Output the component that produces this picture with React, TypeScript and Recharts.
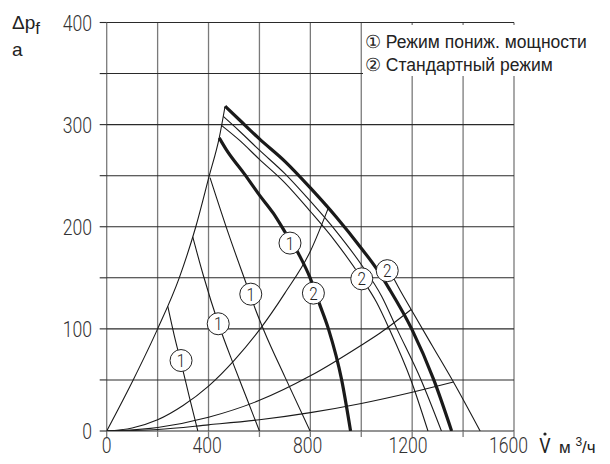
import React from 'react';
import { ComposedChart, Line, Scatter, XAxis, YAxis, CartesianGrid } from 'recharts';

// ---- axis ticks ----
const xTicks = [0, 200, 400, 600, 800, 1000, 1200, 1400, 1600];
const xLabels = [0, 400, 800, 1200, 1600];
const yTicks = [0, 50, 100, 150, 200, 250, 300, 350, 400];
const yLabels = [0, 100, 200, 300, 400];

// ---- curves: [flow m3/h, pressure Pa] ----
const stallLine = [[0, 0], [104, 50], [200, 100], [285, 150], [350, 200], [403, 250], [442, 287], [465, 318]];
const reducedA = [[240, 122], [265, 94], [292, 67], [325, 33], [358, 0]];
const reducedB = [[338, 190], [380, 152], [439, 105], [500, 64], [550, 32], [600, 0]];
const reducedC = [[406, 248], [480, 192], [550, 143], [583, 120], [620, 97], [700, 53], [799, 0]];
const reducedThick = [[442, 287], [471, 275], [540, 252], [600, 231], [655, 213], [700, 195], [759, 171], [799, 150], [835, 125], [871, 100], [923, 50], [958, 0]];
const standardThinB = [[452, 299], [520, 285], [600, 266], [700, 243], [800, 215], [900, 185], [1000, 150], [1060, 126], [1110, 100], [1195, 50], [1262, 0]];
const standardThinA = [[458, 308], [520, 294], [600, 275], [700, 252], [800, 225], [900, 196], [1000, 163], [1080, 132], [1140, 100], [1235, 50], [1315, 0]];
const standardThick = [[465, 318], [520, 305], [600, 286], [700, 264], [800, 238], [900, 210], [1000, 179], [1060, 159], [1113, 138], [1198, 100], [1285, 50], [1355, 0]];
const outerLimit = [[1105, 160], [1152, 138], [1196, 119], [1280, 83], [1362, 48], [1467, 0]];
const systemSteep = [[0, 0], [100, 3], [200, 11], [300, 25], [400, 44], [500, 69], [600, 99], [700, 135], [800, 176], [870, 218]];
const systemMid = [[0, 0], [200, 3.5], [400, 13.5], [600, 30], [800, 54], [1000, 84], [1074, 96], [1196, 119]];
const systemFlat = [[0, 0], [200, 1.5], [400, 6], [600, 11], [800, 18], [1000, 27], [1200, 38], [1362, 48]];

// ---- circled markers ----
const markerFlow = [292, 438, 566, 720, 812, 1002, 1102];
const markerPressure = [69, 105, 134, 184, 135, 149, 157];
const markerText = ['1', '1', '1', '1', '2', '2', '2'];

const toPts = (arr: number[][]) => arr.map(([x, y]) => ({ x, y }));
const markers = markerFlow.map((x, i) => ({ x, y: markerPressure[i], t: markerText[i] }));

const DIGIT_FONT = "Roboto, 'DejaVu Sans', sans-serif";
const TEXT_FONT = "'Liberation Sans', Arial, sans-serif";

const PLOT_LEFT = 106.7;
const PLOT_BOTTOM = 431;

const XTick = (props: any) => {
  const { x, payload } = props;
  const v = payload.value;
  const dx = -(v / 1600) * 5.5;
  return (
    <g>
      <line x1={x} x2={x} y1={PLOT_BOTTOM} y2={PLOT_BOTTOM + 6} stroke="#7a7a7a" strokeWidth={1.3} />
      {xLabels.includes(v) ? (
        <text transform={`translate(${x + dx},453) scale(0.8,1)`} textAnchor="middle" fontFamily={DIGIT_FONT} fontWeight={300} fontSize={22} fill="#333">
          {v}
        </text>
      ) : null}
    </g>
  );
};

const YTick = (props: any) => {
  const { y, payload } = props;
  const v = payload.value;
  return (
    <g>
      <line x1={PLOT_LEFT - 7} x2={PLOT_LEFT} y1={y} y2={y} stroke="#2a2a2a" strokeWidth={1.1} />
      {yLabels.includes(v) ? (
        <text transform={`translate(92,${y + 8}) scale(0.8,1)`} textAnchor="end" fontFamily={DIGIT_FONT} fontWeight={300} fontSize={22} fill="#333">
          {v}
        </text>
      ) : null}
    </g>
  );
};

const Badge = (props: any) => {
  const { cx, cy, payload } = props;
  return (
    <g>
      <circle cx={cx} cy={cy} r={11} fill="#fff" stroke="#222" strokeWidth={1} />
      <text transform={`translate(${cx},${cy + 6.5}) scale(0.85,1)`} textAnchor="middle" fontFamily={DIGIT_FONT} fontWeight={300} fontSize={18} fill="#222">
        {payload.t}
      </text>
    </g>
  );
};

const THIN = 1.1;
const THICK = 3.2;

const series: { d: number[][]; w: number }[] = [
  { d: stallLine, w: THIN },
  { d: systemSteep, w: THIN },
  { d: systemMid, w: THIN },
  { d: systemFlat, w: THIN },
  { d: reducedA, w: THIN },
  { d: reducedB, w: THIN },
  { d: reducedC, w: THIN },
  { d: standardThinB, w: THIN },
  { d: standardThinA, w: THIN },
  { d: outerLimit, w: THIN },
  { d: reducedThick, w: THICK },
  { d: standardThick, w: THICK },
];

export default function App() {
  return (
    <div style={{ position: 'absolute', left: 0, top: 0, width: 610, height: 464, background: '#fff' }}>
      <ComposedChart width={610} height={464} margin={{ top: 22.5, right: 96, bottom: 3, left: 76.7 }}>
        <CartesianGrid horizontal={false} stroke="#7a7a7a" strokeWidth={1.3} />
        <CartesianGrid vertical={false} stroke="#2a2a2a" strokeWidth={1.1} />
        <XAxis
          type="number"
          dataKey="x"
          domain={[0, 1600]}
          ticks={xTicks}
          interval={0}
          height={30}
          axisLine={false}
          tickLine={false}
          tick={<XTick />}
          allowDataOverflow
        />
        <YAxis
          type="number"
          domain={[0, 400]}
          ticks={yTicks}
          interval={0}
          width={30}
          axisLine={false}
          tickLine={false}
          tick={<YTick />}
          allowDataOverflow
        />
        {series.map((c, i) => (
          <Line
            key={i}
            data={toPts(c.d)}
            dataKey="y"
            type="monotone"
            stroke="#1a1a1a"
            strokeWidth={c.w}
            dot={false}
            activeDot={false}
            isAnimationActive={false}
          />
        ))}
        <Scatter data={markers} dataKey="y" shape={<Badge />} isAnimationActive={false} />
      </ComposedChart>
      <svg width={610} height={464} style={{ position: 'absolute', left: 0, top: 0, pointerEvents: 'none' }}>
        <rect x={30} y={69} width={69} height={8} fill="#fff" />
        <rect x={363} y={25} width={247} height={51} fill="#fff" />
        <text x={365} y={48} fontFamily={TEXT_FONT} fontSize={17.5} fill="#222">① Режим пониж. мощности</text>
        <text x={365} y={71} fontFamily={TEXT_FONT} fontSize={17.5} fill="#222">② Стандартный режим</text>
        <text x={12} y={29} fontFamily={TEXT_FONT} fontSize={19} fill="#222">
          Δp<tspan fontSize={17} dy={5}>f</tspan>
        </text>
        <text x={12} y={56} fontFamily={TEXT_FONT} fontSize={19} fill="#222">a</text>
        <text transform="translate(545,453) scale(0.85,1)" textAnchor="middle" fontFamily={DIGIT_FONT} fontWeight={400} fontSize={21} fill="#222">V</text>
        <circle cx={545} cy={434} r={1.6} fill="#222" />
        <text x={559} y={453} fontFamily={TEXT_FONT} fontSize={17} fill="#222">м <tspan fontSize={12} dy={-7}>3</tspan><tspan dy={7}>/ч</tspan></text>
      </svg>
    </div>
  );
}
